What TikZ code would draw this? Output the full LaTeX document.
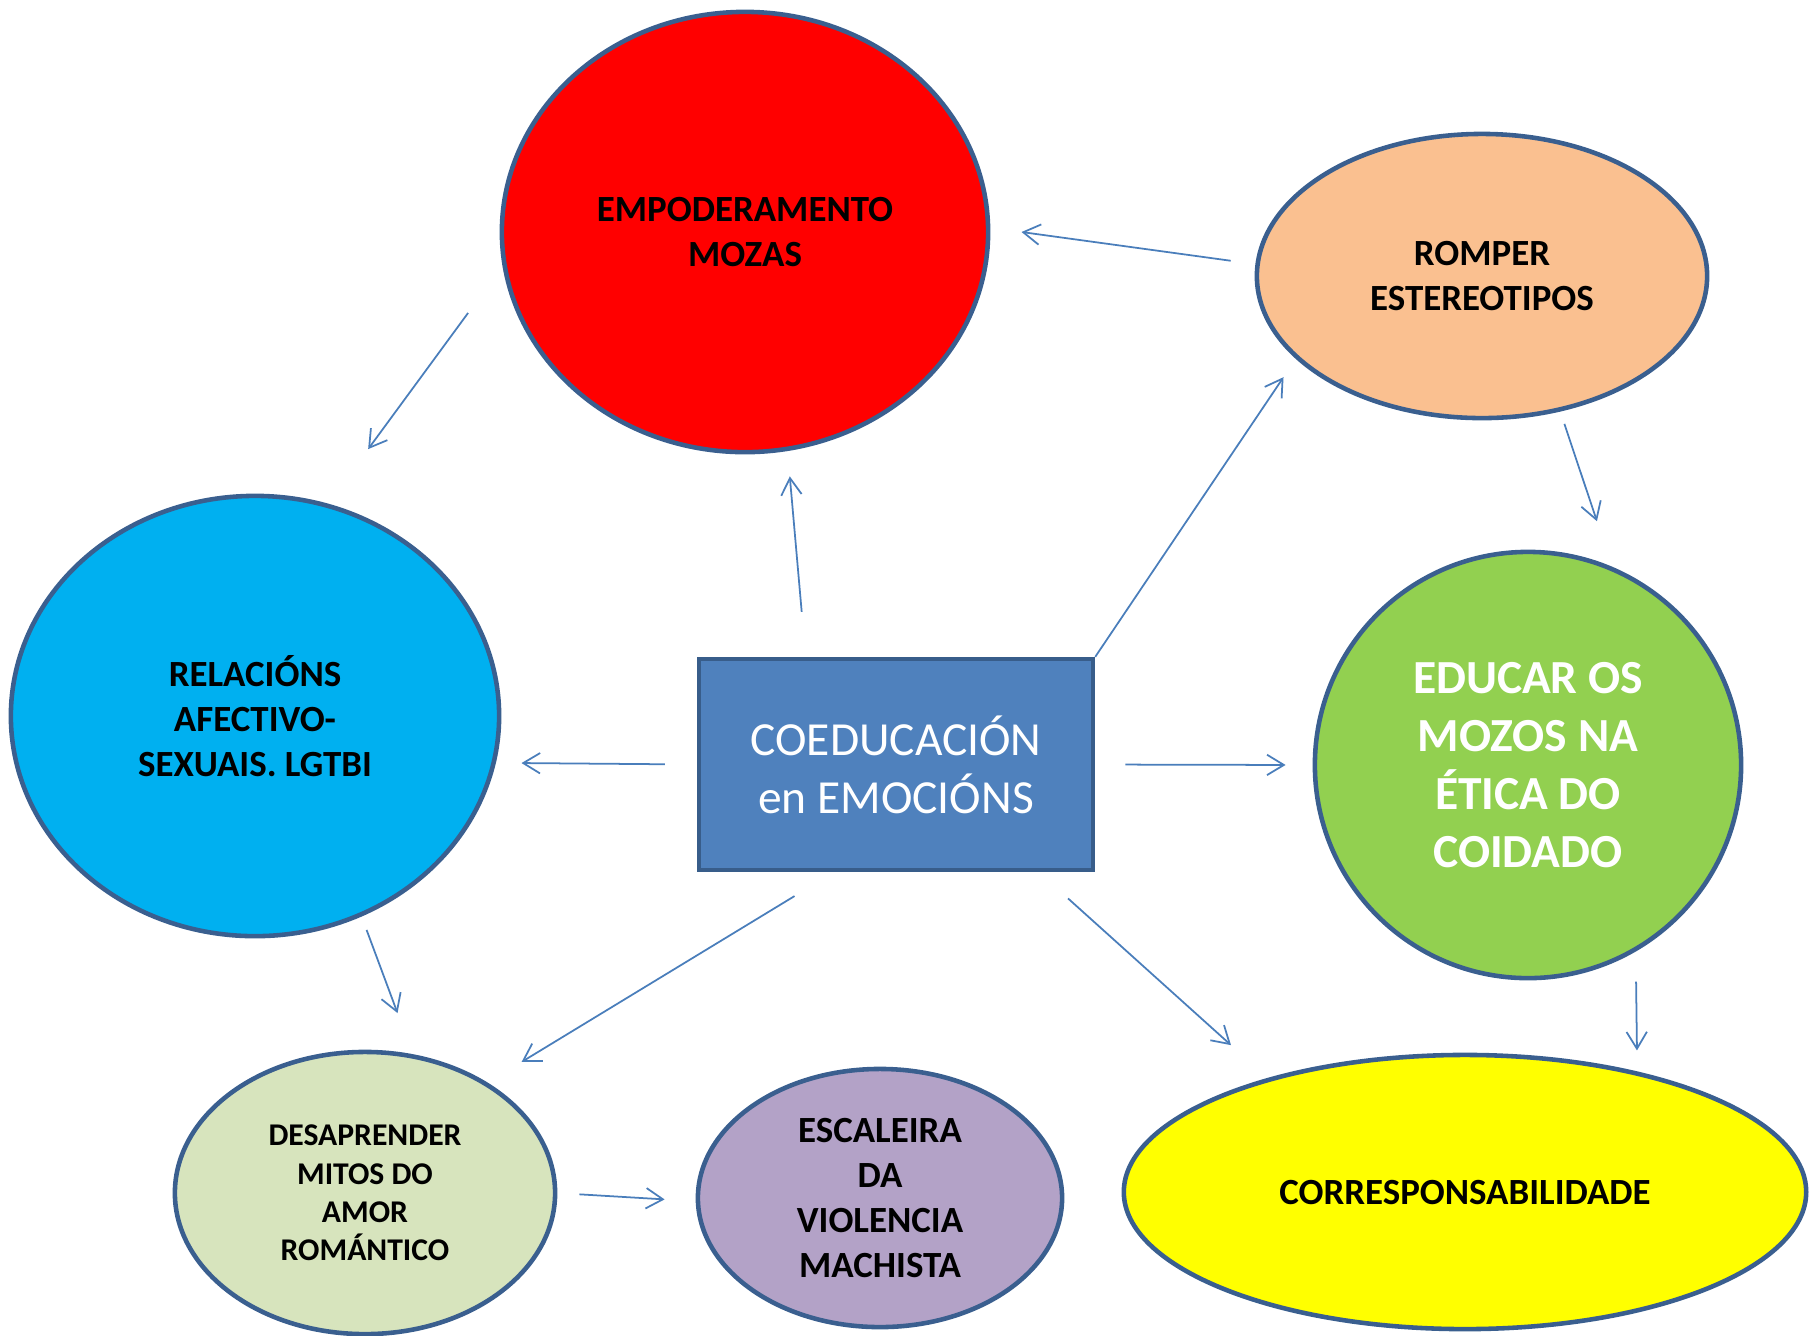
\documentclass[tikz,border=0pt]{standalone}
\usepackage{fontspec}
\setmainfont{Carlito}
\usetikzlibrary{shapes.geometric,arrows.meta}
\definecolor{bordo}{HTML}{3A5F8F}
\definecolor{bordocaixa}{HTML}{385D8A}
\definecolor{caixa}{HTML}{4F81BD}
\definecolor{frechacor}{HTML}{4A7EBB}
\definecolor{vermello}{HTML}{FF0000}
\definecolor{laranxa}{HTML}{FAC090}
\definecolor{ceo}{HTML}{00B0F0}
\definecolor{verde}{HTML}{92D050}
\definecolor{verdeclaro}{HTML}{D7E4BD}
\definecolor{lila}{HTML}{B3A2C7}
\definecolor{amarelo}{HTML}{FFFF00}

\begin{document}
\begin{tikzpicture}[x=0.01cm, y=-0.01cm,
    burbulla/.style={ellipse, draw=bordo, line width=1.3pt, inner sep=0pt, align=center, font=\bfseries\fontsize{10.5}{12.8}\selectfont},
    frecha/.style={draw=frechacor, line width=0.5pt, -{Straight Barb[length=4.8pt,width=5.8pt]}}]
    \useasboundingbox (0,0) rectangle (1812,1335);
    % burbullas
    \node[burbulla, fill=vermello, minimum width=4.86cm, minimum height=4.4cm](empod) at (745,232) {EMPODERAMENTO\\MOZAS};
    \node[burbulla, fill=laranxa, minimum width=4.5cm, minimum height=2.84cm](romper) at (1482,276) {ROMPER\\ESTEREOTIPOS};
    \node[burbulla, fill=ceo, minimum width=4.88cm, minimum height=4.4cm](relac) at (255,716) {RELACIÓNS\\AFECTIVO-\\SEXUAIS. LGTBI};
    \node[burbulla, fill=verde, text=white, font=\bfseries\fontsize{13.5}{16.5}\selectfont, minimum width=4.26cm, minimum height=4.26cm](educar) at (1528,765) {EDUCAR OS\\MOZOS NA\\ÉTICA DO\\COIDADO};
    \node[burbulla, fill=verdeclaro, font=\bfseries\fontsize{9}{10.9}\selectfont, minimum width=3.8cm, minimum height=2.82cm](desap) at (365,1193) {DESAPRENDER\\MITOS DO\\AMOR\\ROMÁNTICO};
    \node[burbulla, fill=lila, minimum width=3.64cm, minimum height=2.58cm](escal) at (880,1198) {ESCALEIRA\\DA\\VIOLENCIA\\MACHISTA};
    \node[burbulla, fill=amarelo, minimum width=6.82cm, minimum height=2.74cm](corresp) at (1465,1192) {CORRESPONSABILIDADE};
    % caixa central
    \node[rectangle, draw=bordocaixa, line width=1.2pt, fill=caixa, text=white, font=\fontsize{13.5}{16.5}\selectfont, align=center, minimum width=3.94cm, minimum height=2.11cm, inner sep=0pt](centro) at (896,764.5) {COEDUCACIÓN\\en EMOCIÓNS};
    % frechas
    \draw[frecha, shorten <=0.452cm, shorten >=0.254cm](centro.130.5)--(empod.-79);
    \draw[frecha, shorten >=0.22cm](centro.north east)--(romper.204.8);
    \draw[frecha, shorten <=0.32cm, shorten >=0.256cm](centro.west)--(relac.-11.15);
    \draw[frecha, shorten <=0.30cm, shorten >=0.27cm](centro.east)--(educar.west);
    \draw[frecha, shorten <=0.46cm, shorten >=0.397cm](centro.-120.4)--(desap.42.3);
    \draw[frecha, shorten <=0.392cm, shorten >=0.491cm](centro.-37.4)--(corresp.150.1);
    \draw[frecha, shorten <=0.249cm, shorten >=0.314cm](romper.177.3)--(empod.1.26);
    \draw[frecha, shorten <=0.581cm, shorten >=0.676cm](empod.188.2)--(relac.71.8);
    \draw[frecha, shorten <=0.13cm, shorten >=0.48cm](romper.-60.3)--(educar.67.8);
    \draw[frecha, shorten <=0.143cm, shorten >=0.438cm](relac.-62.1)--(desap.71.5);
    \draw[frecha, shorten <=0.221cm, shorten >=0.311cm](desap.0.5)--(escal.181.4);
    \draw[frecha, shorten <=0.30cm, shorten >=0.21cm](educar.-60.15)--(corresp.35.15);
\end{tikzpicture}
\end{document}
